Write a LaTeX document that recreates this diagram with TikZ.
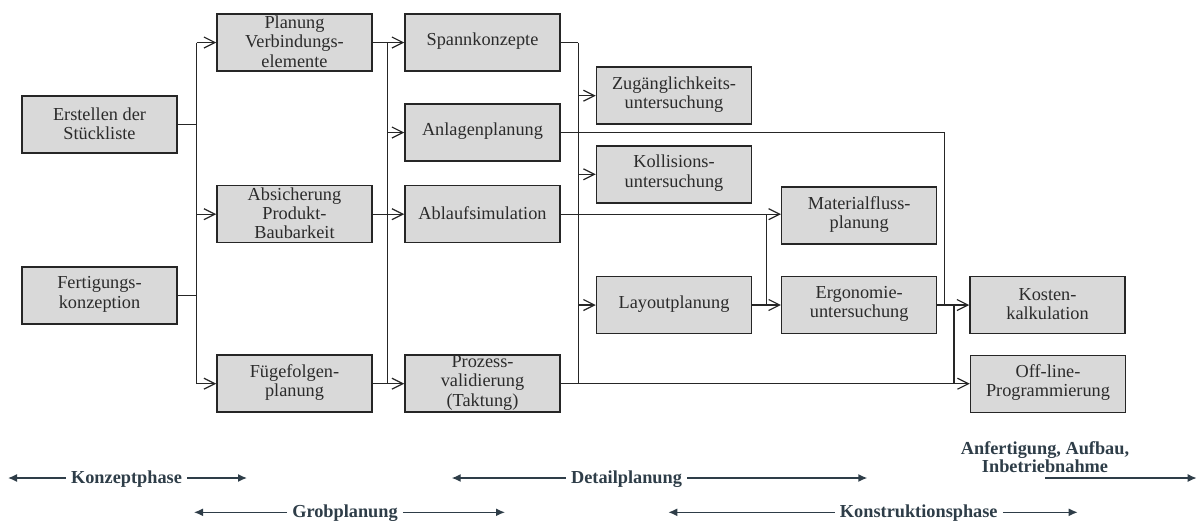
\documentclass[tikz,border=0pt]{standalone}
\usepackage{fontspec}
\setmainfont{Liberation Serif}
\usetikzlibrary{arrows.meta}
\definecolor{boxfill}{HTML}{D9D9D9}
\definecolor{lncol}{HTML}{262626}
\definecolor{txtcol}{HTML}{2B2B2B}
\definecolor{phcol}{HTML}{2E3D48}
\tikzset{
  box/.style={draw=lncol, line width=1.5pt, fill=boxfill, minimum width=155pt, minimum height=57pt, inner sep=0pt},
  txt/.style={align=center, inner sep=0pt, text=txtcol, font=\fontsize{18.3}{19.4}\selectfont},
  ln/.style={draw=lncol, line width=1.2pt},
  arr/.style={ln, -{Straight Barb[length=11pt,width=11pt,line width=1.2pt]}},
  ph/.style={inner xsep=5pt, inner ysep=0pt, text=phcol, anchor=base, font=\fontsize{18.3}{19.4}\selectfont\bfseries},
  pharr/.style={draw=phcol, line width=1.4pt, -{Latex[length=9pt,width=8pt]}},
}
\begin{document}
\begin{tikzpicture}[x=1pt,y=-1pt]
\useasboundingbox (0,0) rectangle (1198,520);
% boxes
\node[box] (erst) at (99.5,124.7) {};
\node[box] (fert) at (99.5,295.3) {};
\node[box] (plan) at (294.5,42.5) {};
\node[box] (absi) at (294.5,214.2) {};
\node[box] (fuege) at (294.5,383.7) {};
\node[box] (spann) at (482.5,42.5) {};
\node[box] (anla) at (482.5,132.5) {};
\node[box] (ablauf) at (482.5,214.2) {};
\node[box] (proz) at (482.5,383.7) {};
\node[box] (zug) at (674,95.7) {};
\node[box] (koll) at (674,174.3) {};
\node[box] (layout) at (674,305) {};
\node[box] (mat) at (859.2,215.3) {};
\node[box] (ergo) at (859.2,305) {};
\node[box] (kost) at (1047.5,305) {};
\node[box] (off) at (1048,383.8) {};
% texts
\node[txt] (erst-t) at ([yshift=1pt]erst) {Erstellen der\\Stückliste};
\node[txt] (fert-t) at ([yshift=1pt]fert) {Fertigungs-\\konzeption};
\node[txt] (plan-t) at ([yshift=1pt]plan) {Planung\\Verbindungs-\\elemente};
\node[txt] (absi-t) at ([yshift=1pt]absi) {Absicherung\\Produkt-\\Baubarkeit};
\node[txt] (fuege-t) at ([yshift=1pt]fuege) {Fügefolgen-\\planung};
\node[txt] (spann-t) at ([yshift=1pt]spann) {Spannkonzepte};
\node[txt] (anla-t) at ([yshift=1pt]anla) {Anlagenplanung};
\node[txt] (ablauf-t) at ([yshift=1pt]ablauf) {Ablaufsimulation};
\node[txt] (proz-t) at ([yshift=1pt]proz) {Prozess-\\validierung\\(Taktung)};
\node[txt] (zug-t) at ([yshift=1pt]zug) {Zugänglichkeits-\\untersuchung};
\node[txt] (koll-t) at ([yshift=1pt]koll) {Kollisions-\\untersuchung};
\node[txt] (layout-t) at ([yshift=1pt]layout) {Layoutplanung};
\node[txt] (mat-t) at ([yshift=1pt]mat) {Materialfluss-\\planung};
\node[txt] (ergo-t) at ([yshift=1pt]ergo) {Ergonomie-\\untersuchung};
\node[txt] (kost-t) at ([yshift=1pt]kost) {Kosten-\\kalkulation};
\node[txt] (off-t) at ([yshift=1pt]off) {Off-line-\\Programmierung};
% trunk coordinates
\coordinate (t1) at (196.7,0);
\coordinate (t2) at (387.7,0);
\coordinate (t3) at (578.3,0);
\coordinate (t4) at (766.7,0);
\coordinate (t5) at (944.3,0);
\coordinate (t6) at (954,0);
% column 1 -> 2
\draw[ln] (erst.east) -- (erst.east -| t1);
\draw[ln] (fert.east) -- (fert.east -| t1);
\draw[ln] (plan.west -| t1) -- (fuege.west -| t1);
\draw[arr] (plan.west -| t1) -- (plan.west);
\draw[arr] (absi.west -| t1) -- (absi.west);
\draw[arr] (fuege.west -| t1) -- (fuege.west);
% column 2 -> 3
\draw[ln] (plan.east) -- (plan.east -| t2);
\draw[ln] (absi.east) -- (absi.east -| t2);
\draw[ln] (fuege.east) -- (fuege.east -| t2);
\draw[ln] (spann.west -| t2) -- (proz.west -| t2);
\draw[arr] (spann.west -| t2) -- (spann.west);
\draw[arr] (anla.west -| t2) -- (anla.west);
\draw[arr] (ablauf.west -| t2) -- (ablauf.west);
\draw[arr] (proz.west -| t2) -- (proz.west);
% column 3 -> 4
\draw[ln] (spann.east) -- (spann.east -| t3);
\draw[ln] (spann.east -| t3) -- (proz.east -| t3);
\draw[arr] (zug.west -| t3) -- (zug.west);
\draw[arr] (koll.west -| t3) -- (koll.west);
\draw[arr] (layout.west -| t3) -- (layout.west);
% long lines
\draw[ln] (anla.east) -- (anla.east -| t5) -- (ergo.east -| t5);
\draw[arr] (ablauf.east) -- (ablauf.east -| mat.west);
\draw[ln] (ablauf.east -| t4) -- (layout.east -| t4);
\draw[arr] (layout.east) -- (ergo.west);
\draw[arr] (ergo.east) -- (kost.west);
\draw[ln] (ergo.east -| t6) -- (proz.east -| t6);
\draw[arr] (proz.east) -- (proz.east -| off.west);
% phases
\coordinate (konzL) at (8,478);
\coordinate (konzR) at (247,478);
\node[ph] (konz) at (126.5,483.3) {Konzeptphase};
\draw[pharr] (konz.west |- konzL) -- (konzL);
\draw[pharr] (konz.east |- konzR) -- (konzR);
\coordinate (grobL) at (194,512.3);
\coordinate (grobR) at (505,512.3);
\node[ph] (grob) at (345,517.6) {Grobplanung};
\draw[pharr] (grob.west |- grobL) -- (grobL);
\draw[pharr] (grob.east |- grobR) -- (grobR);
\coordinate (detL) at (451.7,478);
\coordinate (detR) at (867.3,478);
\node[ph] (det) at (626.5,483.3) {Detailplanung};
\draw[pharr] (det.west |- detL) -- (detL);
\draw[pharr] (det.east |- detR) -- (detR);
\coordinate (konsL) at (668.3,512.3);
\coordinate (konsR) at (1077.7,512.3);
\node[ph] (kons) at (918.8,517.6) {Konstruktionsphase};
\draw[pharr] (kons.west |- konsL) -- (konsL);
\draw[pharr] (kons.east |- konsR) -- (konsR);
\coordinate (anfR) at (1196.7,478);
\node[ph, anchor=center, align=center, font=\fontsize{18.3}{18.7}\selectfont\bfseries] (anf) at (1045,457) {Anfertigung, Aufbau,\\Inbetriebnahme};
\draw[pharr] (anf.center |- anfR) -- (anfR);
\end{tikzpicture}
\end{document}
